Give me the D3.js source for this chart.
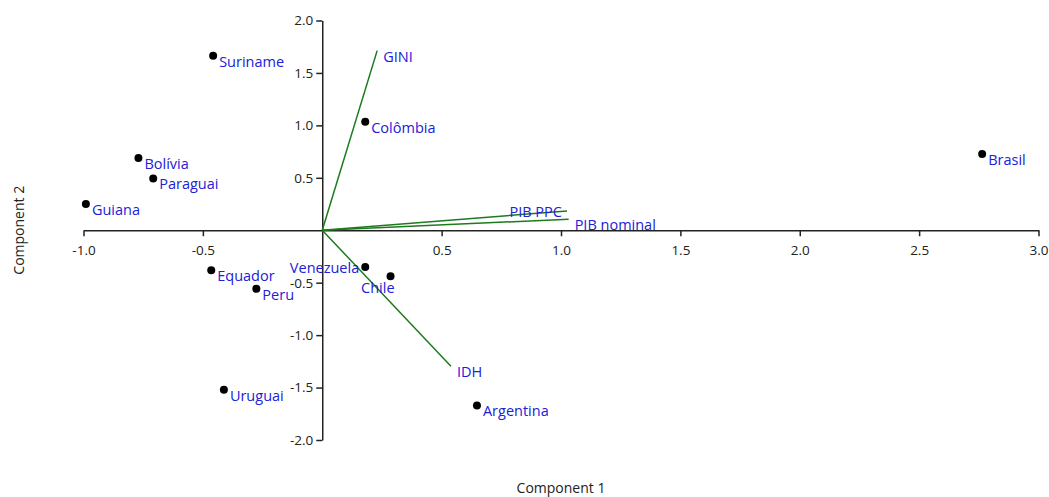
<!DOCTYPE html>
<html>
<head>
<meta charset="utf-8">
<script src="https://cdn.jsdelivr.net/npm/d3@7"></script>
<style>
  body { margin: 0; background: #fff; }
  text { font-family: "Open Sans", "Noto Sans", sans-serif; }
</style>
</head>
<body>
<div id="viz"></div>
<script>
const width = 1049;
const height = 497;

// scores (Component 1, Component 2)
const countries = ['Suriname', 'Bolívia', 'Paraguai', 'Guiana', 'Colômbia', 'Brasil',
    'Equador', 'Peru', 'Uruguai', 'Venezuela', 'Chile', 'Argentina'];
const comp1 = [-0.457, -0.770, -0.708, -0.990, 0.180, 2.764, -0.465, -0.276, -0.412, 0.180, 0.286, 0.648];
const comp2 = [1.665, 0.688, 0.494, 0.251, 1.034, 0.726, -0.382, -0.557, -1.522, -0.350, -0.439, -1.671];

// loadings
const variables = ['GINI', 'PIB PPC', 'PIB nominal', 'IDH'];
const load1 = [0.230, 1.025, 1.032, 0.539];
const load2 = [1.713, 0.184, 0.105, -1.296];

const xTicks = [-1.0, -0.5, 0, 0.5, 1.0, 1.5, 2.0, 2.5, 3.0];
const yTicks = [-2.0, -1.5, -1.0, -0.5, 0, 0.5, 1.0, 1.5, 2.0];

const labelColor = '#2020d8';
const vecColor = '#1d7a1d';
const axisColor = '#222';

const xScale = d3.scaleLinear().domain([-1, 3]).range([83.5, 1038.5]);
const yScale = d3.scaleLinear().domain([-2, 2]).range([440, 20.5]);

// label placement tweaks where the original moved labels off the default spot
function labelPos(name) {
    if (name === 'Venezuela') return { dx: -6, dy: 6, anchor: 'end' };
    if (name === 'Chile') return { dx: 4, dy: 17, anchor: 'end' };
    if (name === 'PIB PPC') return { dx: -5, dy: 6, anchor: 'end' };
    return { dx: 6, dy: 11, anchor: 'start' };
}

const svg = d3.select('#viz')
    .append('svg')
        .attr('width', width)
        .attr('height', height);

const fmt = d => d3.format('.1f')(d).replace('−', '-');

const xAxis = svg.append('g')
    .attr('transform', `translate(0, ${yScale(0)})`)
    .call(d3.axisBottom(xScale).tickValues(xTicks).tickSize(6).tickSizeOuter(0).tickFormat(fmt));

const yAxis = svg.append('g')
    .attr('transform', `translate(${xScale(0)}, 0)`)
    .call(d3.axisLeft(yScale).tickValues(yTicks).tickSize(6).tickSizeOuter(0).tickFormat(fmt));

[xAxis, yAxis].forEach(ax => {
    ax.selectAll('path, line').attr('stroke', axisColor).attr('stroke-width', 1.5);
    ax.selectAll('text').attr('fill', axisColor).style('font-size', '13.5px')
        .style('font-family', '"Open Sans", sans-serif');
});
xAxis.selectAll('text').attr('dy', '1.2em');
// the 0 tick has no mark on either axis
xAxis.selectAll('.tick').filter(d => d === 0).remove();
yAxis.selectAll('.tick').filter(d => d === 0).remove();

// loading vectors
const vecs = variables.map((v, i) => ({ name: v, x: load1[i], y: load2[i] }));
svg.append('g')
    .selectAll('line')
    .data(vecs)
    .join('line')
        .attr('x1', xScale(0))
        .attr('y1', yScale(0))
        .attr('x2', d => xScale(d.x))
        .attr('y2', d => yScale(d.y))
        .attr('stroke', vecColor)
        .attr('stroke-width', 1.5);

svg.append('g')
    .selectAll('text')
    .data(vecs)
    .join('text')
        .attr('x', d => xScale(d.x) + labelPos(d.name).dx)
        .attr('y', d => yScale(d.y) + labelPos(d.name).dy)
        .attr('text-anchor', d => labelPos(d.name).anchor)
        .attr('fill', labelColor)
        .style('font-size', '14.5px')
        .text(d => d.name);

// country scores
const pts = countries.map((c, i) => ({ name: c, x: comp1[i], y: comp2[i] }));
svg.append('g')
    .selectAll('circle')
    .data(pts)
    .join('circle')
        .attr('cx', d => xScale(d.x))
        .attr('cy', d => yScale(d.y))
        .attr('r', 4)
        .attr('fill', '#000');

svg.append('g')
    .selectAll('text')
    .data(pts)
    .join('text')
        .attr('x', d => xScale(d.x) + labelPos(d.name).dx)
        .attr('y', d => yScale(d.y) + labelPos(d.name).dy)
        .attr('text-anchor', d => labelPos(d.name).anchor)
        .attr('fill', labelColor)
        .style('font-size', '14.5px')
        .text(d => d.name);

// axis titles
svg.append('text')
    .attr('text-anchor', 'middle')
    .attr('x', (xScale.range()[0] + xScale.range()[1]) / 2)
    .attr('y', 493)
    .attr('fill', axisColor)
    .style('font-size', '14px')
    .text('Component 1');

svg.append('text')
    .attr('text-anchor', 'middle')
    .attr('transform', `translate(24, ${yScale(0)}) rotate(-90)`)
    .attr('fill', axisColor)
    .style('font-size', '14px')
    .text('Component 2');
</script>
</body>
</html>
